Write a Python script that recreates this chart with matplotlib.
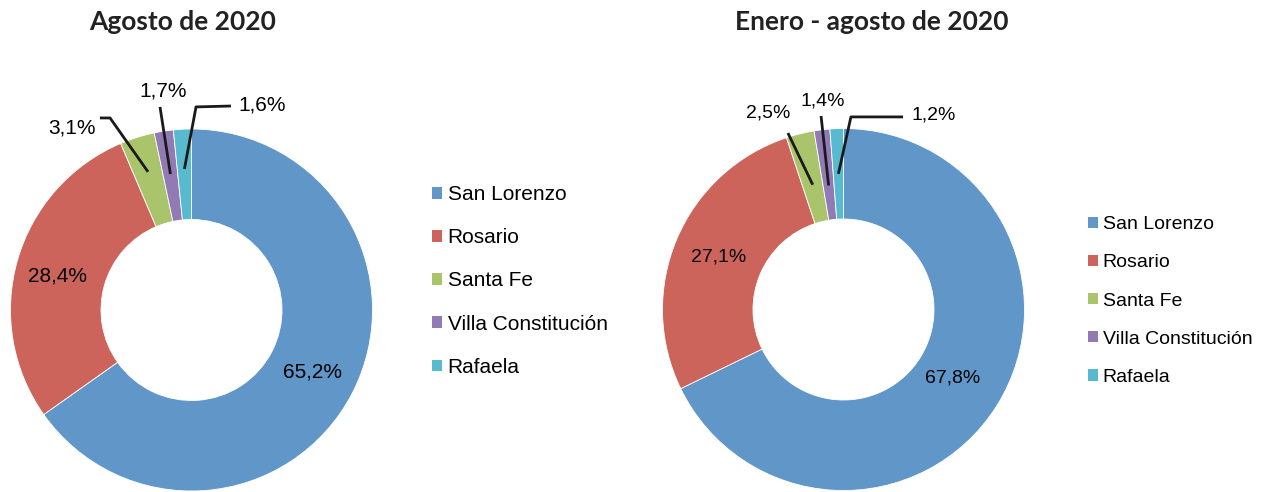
import numpy as np
import matplotlib
matplotlib.use("Agg")
import matplotlib.pyplot as plt

plt.rcParams["font.family"] = ["Liberation Sans", "DejaVu Sans"]

# -----------------------------
# Data
# -----------------------------
localidades = ["San Lorenzo", "Rosario", "Santa Fe", "Villa Constitución", "Rafaela"]
agosto_2020 = [65.2, 28.4, 3.1, 1.7, 1.6]
enero_agosto_2020 = [67.8, 27.1, 2.5, 1.4, 1.2]
titulos = ["Agosto de 2020", "Enero - agosto de 2020"]

colores = ["#6096C8", "#CC645C", "#AAC46C", "#927AB4", "#58BACE"]

W, H = 1266, 492
fig = plt.figure(figsize=(W / 100, H / 100), dpi=100)


def fmt(v):
    return f"{v:.1f}%".replace(".", ",")


def donut(values, cx, cy, R, fs, big_pos, leaders, leg_x, leg_y, leg_space):
    # axes box in pixels -> square around the pie
    ax = fig.add_axes([(cx - R) / W, (H - cy - R) / H, 2 * R / W, 2 * R / H])
    wedges, _ = ax.pie(values, colors=colores, startangle=90, counterclock=False,
                       radius=1.0, wedgeprops=dict(width=0.5, edgecolor="white", linewidth=0.6))
    ax.set_xlim(-1, 1)
    ax.set_ylim(-1, 1)
    ax.set_aspect("equal")
    ax.axis("off")

    # big labels inside the ring
    for i, pos in big_pos.items():
        if pos[0] == "polar":
            w = wedges[i]
            ang = np.deg2rad((w.theta1 + w.theta2) / 2)
            x, y = pos[1] * np.cos(ang), pos[1] * np.sin(ang)
        else:
            x, y = pos[1], pos[2]
        ax.text(x, y, fmt(values[i]), ha="center", va="center", fontsize=fs, color="black")

    # small labels with leader lines
    for i, lay in leaders.items():
        w = wedges[i]
        ang = np.deg2rad((w.theta1 + w.theta2) / 2)
        tip = (lay["r"] * np.cos(ang), lay["r"] * np.sin(ang))
        pts = [tip] + lay["path"]
        xs, ys = zip(*pts)
        ax.plot(xs, ys, color="#1a1a1a", lw=2, clip_on=False, solid_capstyle="butt")
        tx, ty, ha = lay["text"]
        ax.text(tx, ty, fmt(values[i]), ha=ha, va="center", fontsize=fs, color="black", clip_on=False)

    leg = fig.legend(wedges, localidades, loc="center left", bbox_to_anchor=(leg_x / W, 1 - leg_y / H),
                     frameon=False, fontsize=fs, handlelength=0.5, handleheight=0.5,
                     handletextpad=0.25, labelspacing=leg_space, borderpad=0, borderaxespad=0)
    for h in leg.legend_handles:
        h.set_edgecolor("none")
    return ax


# Agosto 2020
donut(agosto_2020, 191.5, 310, 181, 15,
      big_pos={0: ("polar", 0.75), 1: ("xy", -0.743, 0.188)},
      leaders={
          2: dict(r=0.80, path=[(-0.45, 1.061), (-0.506, 1.061)], text=(-0.53, 1.005, "right")),
          3: dict(r=0.76, path=[(-0.174, 1.122)], text=(-0.157, 1.21, "center")),
          4: dict(r=0.78, path=[(0.025, 1.122), (0.218, 1.127)], text=(0.257, 1.133, "left")),
      },
      leg_x=432, leg_y=281, leg_space=1.16)

# Enero - agosto 2020
donut(enero_agosto_2020, 843.5, 309.5, 181, 14,
      big_pos={0: ("polar", 0.71), 1: ("polar", 0.75)},
      leaders={
          2: dict(r=0.71, path=[(-0.307, 0.975)], text=(-0.417, 1.086, "center")),
          3: dict(r=0.69, path=[(-0.124, 1.069)], text=(-0.113, 1.152, "center")),
          4: dict(r=0.75, path=[(0.041, 1.064), (0.329, 1.064)], text=(0.373, 1.075, "left")),
      },
      leg_x=1088, leg_y=301, leg_space=1.09)

fig.text(183 / W, 1 - 22 / H, titulos[0], ha="center", va="center", fontsize=19,
         fontweight="bold", family=["Lato", "DejaVu Sans"], color="#222222")
fig.text(872 / W, 1 - 22 / H, titulos[1], ha="center", va="center", fontsize=19,
         fontweight="bold", family=["Lato", "DejaVu Sans"], color="#222222")

fig.savefig("out.png", dpi=100, facecolor="white")
